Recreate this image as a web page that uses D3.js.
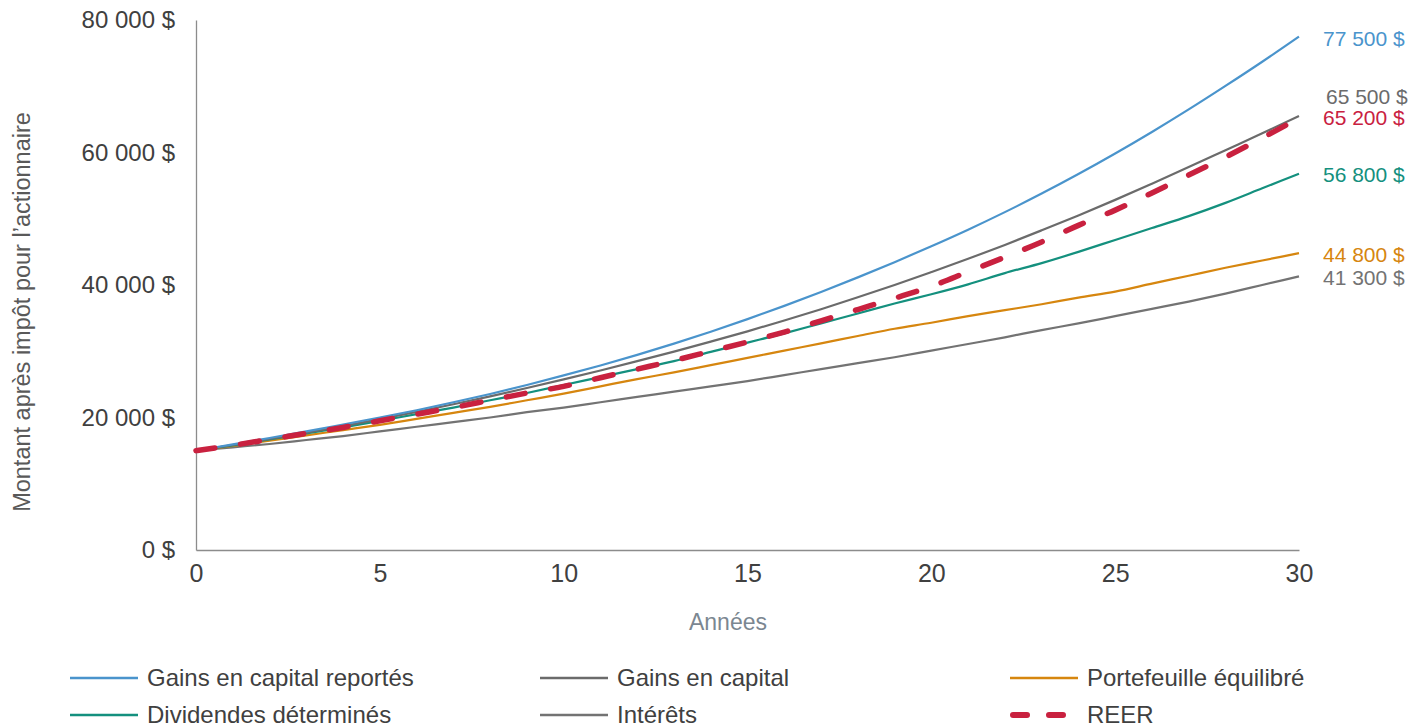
<!DOCTYPE html>
<html>
<head>
<meta charset="utf-8">
<script src="https://cdn.jsdelivr.net/npm/d3@7"></script>
<style>
  body { margin: 0; background: #fff; }
  text { font-family: "Liberation Sans", Arial, sans-serif; }
</style>
</head>
<body>
<svg id="chart" width="1424" height="727"></svg>
<script>
const years = d3.range(0, 31);

const gainsReportes = [15000, 15950, 16900, 17900, 18950, 20000, 21100, 22300, 23550, 24900, 26350,
  27850, 29450, 31150, 32950, 34850, 36850, 38950, 41150, 43450, 45850,
  48350, 51000, 53800, 56750, 59850, 63100, 66500, 70050, 73700, 77500];
const gainsCapital = [15000, 15850, 16750, 17700, 18700, 19750, 20850, 22000, 23200, 24450, 25750,
  27100, 28500, 29950, 31450, 33000, 34650, 36350, 38150, 40000, 41950,
  43950, 46050, 48250, 50500, 52850, 55300, 57800, 60350, 62900, 65500];
const portefeuille = [15000, 15700, 16500, 17300, 18100, 18900, 19800, 20700, 21600, 22600, 23600,
  24700, 25800, 26800, 27900, 29000, 30100, 31200, 32300, 33400, 34300,
  35300, 36200, 37100, 38100, 39000, 40200, 41400, 42600, 43700, 44800];
const dividendes = [15000, 15800, 16700, 17600, 18500, 19500, 20500, 21500, 22600, 23700, 24900,
  26100, 27300, 28500, 29900, 31300, 32700, 34200, 35700, 37200, 38600,
  40100, 41800, 43300, 45000, 46800, 48600, 50400, 52400, 54600, 56800];
const interets = [15000, 15500, 16000, 16600, 17200, 17900, 18600, 19300, 20000, 20800, 21500,
  22300, 23100, 23900, 24700, 25500, 26400, 27300, 28200, 29100, 30100,
  31100, 32100, 33200, 34200, 35300, 36400, 37500, 38700, 40000, 41300];
const reer = [15000, 15800, 16700, 17600, 18500, 19500, 20500, 21500, 22600, 23700, 24700,
  26000, 27300, 28600, 30000, 31400, 32900, 34600, 36300, 38000, 39800,
  42000, 44200, 46500, 49000, 51300, 53900, 56600, 59300, 62200, 65200];

const seriesNames = ["Gains en capital reportés", "Gains en capital", "Portefeuille équilibré",
  "Dividendes déterminés", "Intérêts", "REER"];
const seriesValues = [gainsReportes, gainsCapital, portefeuille, dividendes, interets, reer];
const endLabels = ["77 500 $", "65 500 $", "44 800 $", "56 800 $", "41 300 $", "65 200 $"];
const yTicks = [0, 20000, 40000, 60000, 80000];
const xTicks = [0, 5, 10, 15, 20, 25, 30];

const colors = ["#4a94cc", "#6b6b6b", "#d6860f", "#14907e", "#737373", "#c9213f"];
const labelDy = [2, -19, 1, 1, 1, 0];

const svg = d3.select("#chart");
const margin = { top: 20, left: 196, right: 125, bottom: 177 };
const width = 1424 - margin.left - margin.right;
const height = 727 - margin.top - margin.bottom;

const xScale = d3.scaleLinear().domain([0, 30]).range([0, width]);
const yScale = d3.scaleLinear().domain([0, 80000]).range([height, 0]);

const fmt = v => d3.format(",")(v).replace(/,/g, " ") + " $";

const inner = svg.append("g")
  .attr("transform", `translate(${margin.left},${margin.top})`);

// axes
const yAxis = inner.append("g")
  .call(d3.axisLeft(yScale).tickValues(yTicks).tickSize(0).tickPadding(21).tickFormat(fmt));
yAxis.select(".domain").attr("stroke", "#8c8c8c").attr("stroke-width", 1.3);
yAxis.selectAll("text").attr("font-size", 24).attr("fill", "#404040")
  .attr("font-family", "Liberation Sans, Arial, sans-serif");

const xAxis = inner.append("g")
  .attr("transform", `translate(0,${height})`)
  .call(d3.axisBottom(xScale).tickValues(xTicks).tickSize(0).tickPadding(14));
xAxis.select(".domain").attr("stroke", "#8c8c8c").attr("stroke-width", 1.3);
xAxis.selectAll("text").attr("font-size", 25).attr("fill", "#404040")
  .attr("font-family", "Liberation Sans, Arial, sans-serif");

// axis titles
svg.append("text")
  .attr("transform", "translate(30,312) rotate(-90)")
  .attr("text-anchor", "middle")
  .attr("font-size", 23.5)
  .attr("fill", "#595959")
  .text("Montant après impôt pour l’actionnaire");

svg.append("text")
  .attr("x", 728)
  .attr("y", 630)
  .attr("text-anchor", "middle")
  .attr("font-size", 23)
  .attr("fill", "#7b8791")
  .text("Années");

// lines
const line = d3.line()
  .x((d, i) => xScale(years[i]))
  .y(d => yScale(d))
  .curve(d3.curveMonotoneX);

const drawOrder = [4, 2, 3, 1, 0, 5];
inner.selectAll("path.series")
  .data(drawOrder)
  .join("path")
  .attr("class", "series")
  .attr("fill", "none")
  .attr("stroke", i => colors[i])
  .attr("stroke-width", i => i === 5 ? 5.5 : 2.2)
  .attr("stroke-dasharray", i => i === 5 ? "19 26" : null)
  .attr("stroke-linecap", i => i === 5 ? "round" : "butt")
  .attr("d", i => line(seriesValues[i]));

// end labels
inner.selectAll("text.end")
  .data(d3.range(6))
  .join("text")
  .attr("class", "end")
  .attr("x", i => width + 24 + (i === 1 ? 3 : 0))
  .attr("y", i => yScale(seriesValues[i][30]) + labelDy[i])
  .attr("dy", "0.35em")
  .attr("font-size", 21)
  .attr("fill", i => colors[i])
  .text(i => endLabels[i]);

// legend
const legendX = [70, 540, 1010];
const legendY = [678, 715];
const legend = svg.selectAll("g.legend")
  .data(d3.range(6))
  .join("g")
  .attr("class", "legend")
  .attr("transform", i => `translate(${legendX[i % 3]},${legendY[Math.floor(i / 3)]})`);

legend.append("line")
  .attr("x1", 0).attr("x2", 68)
  .attr("stroke", i => colors[i])
  .attr("stroke-width", i => i === 5 ? 6 : 2.5)
  .attr("stroke-dasharray", i => i === 5 ? "14 22" : null)
  .attr("stroke-dashoffset", i => i === 5 ? -3 : 0)
  .attr("stroke-linecap", i => i === 5 ? "round" : "butt");

legend.append("text")
  .attr("x", 77)
  .attr("dy", "0.35em")
  .attr("font-size", 24)
  .attr("fill", "#404040")
  .text(i => seriesNames[i]);
</script>
</body>
</html>
